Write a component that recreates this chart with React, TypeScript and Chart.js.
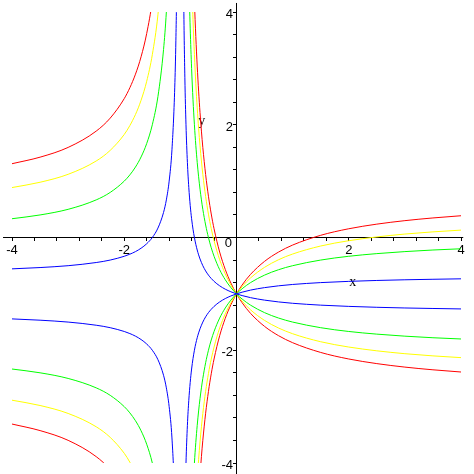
import React, { useEffect, useRef } from 'react';
import { Chart, registerables } from 'chart.js';

Chart.register(...registerables);

// Sample x positions of the branches left of the pole (x < -1) and right of it (x > -1)
const leftX = [-4, -3.5, -3, -2.5, -2.25, -2, -1.9, -1.8, -1.7, -1.6, -1.5, -1.4, -1.3, -1.25, -1.2, -1.15, -1.1, -1.08, -1.06, -1.04];
const rightX = [-0.96, -0.94, -0.92, -0.9, -0.875, -0.85, -0.825, -0.8, -0.775, -0.75, -0.725, -0.7, -0.675, -0.65, -0.625, -0.6, -0.55, -0.5, -0.45, -0.4, -0.3, -0.2, -0.1, 0, 0.1, 0.25, 0.5, 0.75, 1, 1.5, 2, 2.5, 3, 3.5, 4];

// Blue curves
const blueLeftUp = [-0.556, -0.533, -0.5, -0.444, -0.4, -0.333, -0.296, -0.25, -0.19, -0.111, 0, 0.167, 0.444, 0.667, 1, 1.556, 2.667, 3.5, 4.889, 7.667];
const blueLeftDown = [-1.444, -1.467, -1.5, -1.556, -1.6, -1.667, -1.704, -1.75, -1.81, -1.889, -2, -2.167, -2.444, -2.667, -3, -3.556, -4.667, -5.5, -6.889, -9.667];
const blueRightRise = [-9, -6.222, -4.833, -4, -3.333, -2.889, -2.571, -2.333, -2.148, -2, -1.879, -1.778, -1.692, -1.619, -1.556, -1.5, -1.407, -1.333, -1.273, -1.222, -1.143, -1.083, -1.037, -1, -0.97, -0.933, -0.889, -0.857, -0.833, -0.8, -0.778, -0.762, -0.75, -0.741, -0.733];
const blueRightFall = [7, 4.222, 2.833, 2, 1.333, 0.889, 0.571, 0.333, 0.148, 0, -0.121, -0.222, -0.308, -0.381, -0.444, -0.5, -0.593, -0.667, -0.727, -0.778, -0.857, -0.917, -0.963, -1, -1.03, -1.067, -1.111, -1.143, -1.167, -1.2, -1.222, -1.238, -1.25, -1.259, -1.267];

// Green curves
const greenLeftUp = [0.333, 0.4, 0.5, 0.667, 0.8, 1, 1.111, 1.25, 1.429, 1.667, 2, 2.5, 3.333, 4, 5, 6.667, 10, 12.5, 16.667, 25];
const greenLeftDown = [-2.333, -2.4, -2.5, -2.667, -2.8, -3, -3.111, -3.25, -3.429, -3.667, -4, -4.5, -5.333, -6, -7, -8.667, -12, -14.5, -18.667, -27];
const greenRightRise = [-25, -16.667, -12.5, -10, -8, -6.667, -5.714, -5, -4.444, -4, -3.636, -3.333, -3.077, -2.857, -2.667, -2.5, -2.222, -2, -1.818, -1.667, -1.429, -1.25, -1.111, -1, -0.909, -0.8, -0.667, -0.571, -0.5, -0.4, -0.333, -0.286, -0.25, -0.222, -0.2];
const greenRightFall = [23, 14.667, 10.5, 8, 6, 4.667, 3.714, 3, 2.444, 2, 1.636, 1.333, 1.077, 0.857, 0.667, 0.5, 0.222, 0, -0.182, -0.333, -0.571, -0.75, -0.889, -1, -1.091, -1.2, -1.333, -1.429, -1.5, -1.6, -1.667, -1.714, -1.75, -1.778, -1.8];

// Yellow curves
const yellowLeftUp = [0.886, 0.98, 1.121, 1.357, 1.546, 1.828, 1.986, 2.182, 2.435, 2.771, 3.243, 3.95, 5.128, 6.071, 7.485, 9.842, 14.556, 18.092, 23.985, 35.77];
const yellowLeftDown = [-2.886, -2.98, -3.121, -3.357, -3.546, -3.828, -3.986, -4.182, -4.435, -4.771, -5.243, -5.95, -7.128, -8.071, -9.485, -11.842, -16.556, -20.092, -25.985, -37.77];
const yellowRightRise = [-34.941, -23.156, -17.263, -13.728, -10.899, -9.014, -7.667, -6.657, -5.871, -5.243, -4.728, -4.3, -3.937, -3.626, -3.357, -3.121, -2.728, -2.414, -2.157, -1.943, -1.606, -1.354, -1.157, -1, -0.871, -0.717, -0.529, -0.394, -0.293, -0.151, -0.057, 0.01, 0.061, 0.1, 0.131];
const yellowRightFall = [32.941, 21.156, 15.263, 11.728, 8.899, 7.014, 5.667, 4.657, 3.871, 3.243, 2.728, 2.3, 1.937, 1.626, 1.357, 1.121, 0.728, 0.414, 0.157, -0.057, -0.394, -0.646, -0.843, -1, -1.129, -1.283, -1.471, -1.606, -1.707, -1.849, -1.943, -2.01, -2.061, -2.1, -2.131];

// Red curves
const redLeftUp = [1.309, 1.425, 1.598, 1.887, 2.118, 2.464, 2.657, 2.897, 3.206, 3.619, 4.196, 5.062, 6.506, 7.66, 9.392, 12.279, 18.053, 22.383, 29.6, 44.033];
const redLeftDown = [-3.309, -3.425, -3.598, -3.887, -4.118, -4.464, -4.657, -4.897, -5.206, -5.619, -6.196, -7.062, -8.506, -9.66, -11.392, -14.279, -20.053, -24.383, -31.6, -46.033];
const redRightRise = [-42.569, -28.135, -20.919, -16.588, -13.124, -10.815, -9.165, -7.928, -6.966, -6.196, -5.566, -5.041, -4.597, -4.217, -3.887, -3.598, -3.117, -2.732, -2.417, -2.155, -1.742, -1.433, -1.192, -1, -0.843, -0.654, -0.423, -0.258, -0.134, 0.039, 0.155, 0.237, 0.299, 0.347, 0.386];
const redRightFall = [40.569, 26.135, 18.919, 14.588, 11.124, 8.815, 7.165, 5.928, 4.966, 4.196, 3.566, 3.041, 2.597, 2.217, 1.887, 1.598, 1.117, 0.732, 0.417, 0.155, -0.258, -0.567, -0.808, -1, -1.157, -1.346, -1.577, -1.742, -1.866, -2.039, -2.155, -2.237, -2.299, -2.347, -2.386];

// Axis ticks and labels
const minorTicks = [-4, -3.6, -3.2, -2.8, -2.4, -2, -1.6, -1.2, -0.8, -0.4, 0.4, 0.8, 1.2, 1.6, 2, 2.4, 2.8, 3.2, 3.6, 4];
const xTickValues = [-4, -2, 2, 4];
const xTickLabels = ['-4', '-2', '2', '4'];
const yTickValues = [4, 2, -2, -4];
const yTickLabels = ['4', '2', '-2', '-4'];
const originLabel = '0';
const xAxisName = 'x';
const yAxisName = 'y';

const curveGroups = [
  { color: '#0000ff', branches: [blueLeftUp, blueLeftDown, blueRightRise, blueRightFall] },
  { color: '#00ff00', branches: [greenLeftUp, greenLeftDown, greenRightRise, greenRightFall] },
  { color: '#ffff00', branches: [yellowLeftUp, yellowLeftDown, yellowRightRise, yellowRightFall] },
  { color: '#ff0000', branches: [redLeftUp, redLeftDown, redRightRise, redRightFall] },
];

const toPoints = (xs: number[], ys: number[]) => xs.map((x, i) => ({ x, y: ys[i] }));

const buildDatasets = () => {
  const out: any[] = [];
  curveGroups.forEach((g) => {
    g.branches.forEach((ys, i) => {
      const xs = i < 2 ? leftX : rightX;
      out.push({
        data: toPoints(xs, ys),
        borderColor: g.color,
        backgroundColor: g.color,
        borderWidth: 1,
        pointRadius: 0,
        showLine: true,
        cubicInterpolationMode: 'monotone',
      });
    });
  });
  return out;
};

const axesPlugin = {
  id: 'mapleAxes',
  beforeDatasetsDraw(chart: any) {
    const { ctx } = chart;
    const xs = chart.scales.x;
    const ys = chart.scales.y;
    const px = (v: number) => xs.getPixelForValue(v);
    const py = (v: number) => ys.getPixelForValue(v);
    const ox = Math.floor(px(0)) + 0.5;
    const oy = Math.floor(py(0)) + 0.5;
    ctx.save();
    ctx.strokeStyle = '#000000';
    ctx.lineWidth = 1;
    ctx.beginPath();
    // axes
    ctx.moveTo(px(-4.16), oy);
    ctx.lineTo(px(4.04), oy);
    ctx.moveTo(ox, py(4.16));
    ctx.lineTo(ox, py(-4.3));
    // ticks
    minorTicks.forEach((v) => {
      const tx = Math.floor(px(v)) + 0.5;
      ctx.moveTo(tx, oy + 0.5);
      ctx.lineTo(tx, oy + 3.5);
      const ty = Math.floor(py(v)) + 0.5;
      ctx.moveTo(ox - 0.5, ty);
      ctx.lineTo(ox - 3.5, ty);
    });
    ctx.stroke();

    ctx.fillStyle = '#000000';
    ctx.font = "13px 'Liberation Sans', Arial, sans-serif";
    ctx.textBaseline = 'alphabetic';
    ctx.textAlign = 'center';
    xTickValues.forEach((v, i) => {
      ctx.fillText(xTickLabels[i], px(v), oy + 16.5);
    });
    ctx.textAlign = 'right';
    yTickValues.forEach((v, i) => {
      ctx.fillText(yTickLabels[i], ox - 3.5, py(v) + 6);
    });
    ctx.fillText(originLabel, ox - 4.5, oy + 9.5);

    ctx.font = "14px 'Liberation Serif', 'Times New Roman', serif";
    ctx.textAlign = 'center';
    ctx.fillText(xAxisName, px(2.07), py(-0.86));
    ctx.fillText(yAxisName, px(-0.62), py(2.0));
    ctx.restore();
  },
};

export default function App() {
  const ref = useRef<HTMLCanvasElement>(null);
  useEffect(() => {
    const chart = new Chart(ref.current as HTMLCanvasElement, {
      type: 'scatter',
      data: { datasets: buildDatasets() },
      options: {
        responsive: false,
        animation: false,
        devicePixelRatio: 1,
        layout: { padding: { left: 12, right: 13, top: 12, bottom: 11 } },
        elements: { line: { capBezierPoints: false } as any, point: { radius: 0 } },
        plugins: { legend: { display: false }, tooltip: { enabled: false } },
        scales: {
          x: { type: 'linear', min: -4, max: 4, display: false },
          y: { type: 'linear', min: -4, max: 4, display: false },
        },
      } as any,
      plugins: [axesPlugin],
    });
    return () => chart.destroy();
  }, []);
  return (
    <div style={{ position: 'absolute', left: 0, top: 0, width: 474, height: 474, background: '#ffffff' }}>
      <canvas ref={ref} width={474} height={474} style={{ display: 'block' }} />
    </div>
  );
}
